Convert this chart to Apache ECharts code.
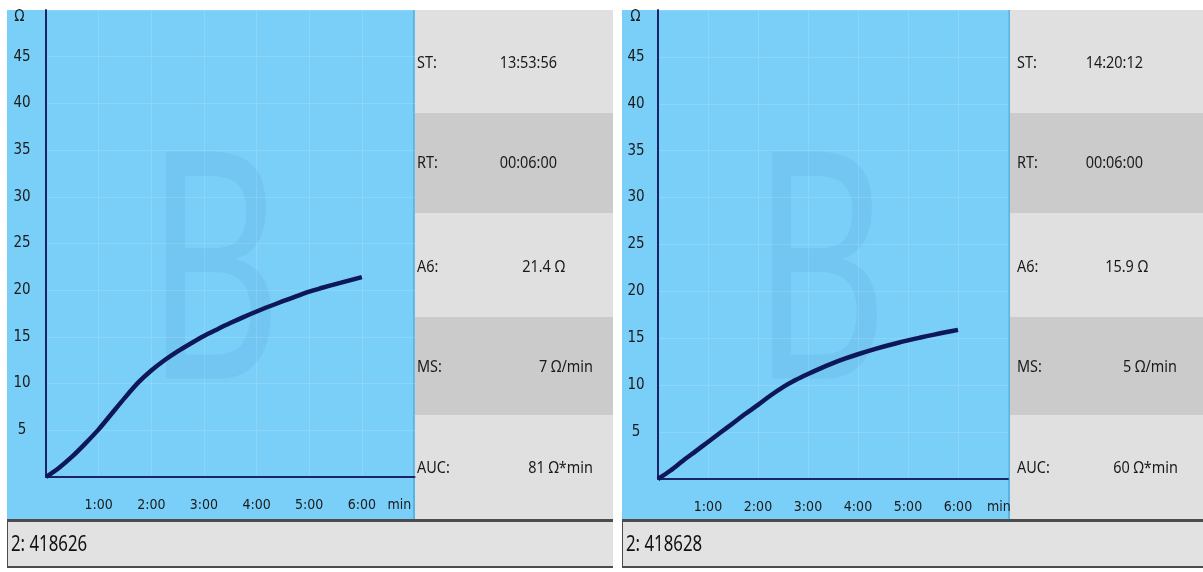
<!DOCTYPE html>
<html>
<head>
<meta charset="utf-8">
<script src="https://cdn.jsdelivr.net/npm/echarts@6/dist/echarts.min.js"></script>
<style>
  html, body { margin: 0; padding: 0; background: #ffffff; }
  #chart { width: 1203px; height: 572px; }
</style>
</head>
<body>
<div id="chart"></div>
<script>
// Elapsed time in minutes, one reading every 15 seconds
const times = [0, 0.25, 0.5, 0.75, 1, 1.25, 1.5, 1.75, 2, 2.25, 2.5, 2.75, 3,
               3.25, 3.5, 3.75, 4, 4.25, 4.5, 4.75, 5, 5.25, 5.5, 5.75, 6];

// Impedance (Ω) for the two runs
const runA = [0, 1.0, 2.2, 3.6, 5.1, 6.8, 8.5, 10.1, 11.4, 12.5, 13.45, 14.3, 15.1,
              15.8, 16.48, 17.12, 17.72, 18.28, 18.82, 19.34, 19.85, 20.26, 20.65, 21.03, 21.4];
const runB = [0, 0.9, 1.95, 2.95, 3.95, 4.95, 5.95, 6.95, 7.9, 8.9, 9.8, 10.55, 11.2,
              11.8, 12.35, 12.85, 13.3, 13.72, 14.1, 14.45, 14.78, 15.08, 15.37, 15.64, 15.9];

const xTickLabels = ['1:00', '2:00', '3:00', '4:00', '5:00', '6:00'];
const yTickLabels = ['5', '10', '15', '20', '25', '30', '35', '40', '45'];

const infoLabels = ['ST:', 'RT:', 'A6:', 'MS:', 'AUC:'];
const startTimes = ['13:53:56', '14:20:12'];
const runTimes = ['00:06:00', '00:06:00'];
const maxSlopes = [7, 5];
const areas = [81, 60];
const sampleIds = ['2: 418626', '2: 418628'];
const panelMark = 'B';

const runs = [runA, runB];

const chart = echarts.init(document.getElementById('chart'), null, { renderer: 'canvas' });

const NARROW = "'DejaVu Sans Condensed', 'Liberation Sans Narrow', 'Liberation Sans', sans-serif";
const UI = "'Noto Sans', 'DejaVu Sans', sans-serif";
const BLUE = '#7acff9';
const AXIS = '#1b2466';
const INK = '#1a1a1a';

// Screen geometry of the two instrument panels
const panels = [
  { frameL: 7,   frameR: 613,  plotL: 46,  plotR: 414.5, plotB: 477, infoL: 415,
    labelX: 417, valueR: [557, 557, 565, 593, 593], markX: 214 },
  { frameL: 622, frameR: 1203, plotL: 658, plotR: 1008,  plotB: 479, infoL: 1010,
    labelX: 1017, valueR: [1143, 1143, 1148, 1177, 1178], markX: 820 }
];
const TOP = 10, BAR_T = 520, BAR_B = 568;
const rowEdges = [10, 113, 213, 317, 415, 520];
const rowLabelY = [63, 163, 267, 367, 468];

function infoValues(i) {
  const run = runs[i];
  return [
    startTimes[i],
    runTimes[i],
    run[run.length - 1].toFixed(1) + ' Ω',
    maxSlopes[i] + ' Ω/min',
    areas[i] + ' Ω*min'
  ];
}

const graphics = [];
panels.forEach((p, i) => {
  // blue plotting field
  graphics.push({ type: 'rect', z: -100, shape: { x: p.frameL, y: TOP, width: p.infoL - p.frameL, height: BAR_T - TOP },
    style: { fill: BLUE } });
  // large faint panel letter
  graphics.push({ type: 'text', z: -90, x: p.markX, y: 288, scaleX: 0.66,
    style: { text: panelMark, font: '318px ' + UI, fill: 'rgba(20,80,140,0.065)', align: 'center', verticalAlign: 'middle' } });
  // divider between field and info column
  graphics.push({ type: 'rect', z: -80, shape: { x: p.infoL - 2, y: TOP, width: 2, height: BAR_T - TOP },
    style: { fill: '#58b4e4' } });
  // info rows
  const vals = infoValues(i);
  for (let r = 0; r < 5; r++) {
    graphics.push({ type: 'rect', z: -80, shape: { x: p.infoL, y: rowEdges[r], width: p.frameR - p.infoL, height: rowEdges[r + 1] - rowEdges[r] },
      style: { fill: r % 2 ? '#cbcbcb' : '#e0e0e0' } });
    graphics.push({ type: 'text', z: 10, x: p.labelX, y: rowLabelY[r], scaleX: 0.85,
      style: { text: infoLabels[r], font: '17px ' + UI, fill: INK, align: 'left', verticalAlign: 'middle' } });
    graphics.push({ type: 'text', z: 10, x: p.valueR[r], y: rowLabelY[r], scaleX: 0.85,
      style: { text: vals[r], font: '17px ' + UI, fill: INK, align: 'right', verticalAlign: 'middle' } });
  }
  // status bar with sample id
  graphics.push({ type: 'rect', z: -80, shape: { x: p.frameL, y: BAR_T - 1, width: p.frameR - p.frameL, height: BAR_B - BAR_T + 1 },
    style: { fill: '#4c4c4c' } });
  graphics.push({ type: 'rect', z: -79, shape: { x: p.frameL + 1, y: BAR_T + 2, width: p.frameR - p.frameL - 1, height: BAR_B - BAR_T - 4 },
    style: { fill: '#e2e2e2' } });
  graphics.push({ type: 'text', z: 10, x: p.frameL + 4, y: 545, scaleX: 0.8,
    style: { text: sampleIds[i], font: '21px ' + UI, fill: '#111111', align: 'left', verticalAlign: 'middle' } });
});

const grids = panels.map(p => ({
  left: p.plotL, top: TOP, width: p.plotR - p.plotL, height: p.plotB - TOP,
  containLabel: false, outerBoundsMode: 'none'
}));

const xAxes = panels.map((p, i) => ({
  type: 'value', gridIndex: i, min: 0, max: 7, interval: 1,
  axisLine: { show: true, onZero: false, lineStyle: { color: AXIS, width: 2 } },
  axisTick: { show: false },
  splitLine: { show: true, lineStyle: { color: 'rgba(255,255,255,0.13)', width: 1 } },
  axisLabel: {
    margin: 21, color: INK, fontSize: 14, fontFamily: NARROW,
    formatter: v => xTickLabels[v - 1] || ''
  },
  name: 'min', nameLocation: 'end', nameGap: i === 0 ? -27 : -21,
  nameTextStyle: { color: INK, fontSize: 14, fontFamily: NARROW, align: 'left', verticalAlign: 'top', padding: [21, 0, 0, 0] }
}));

const yAxes = panels.map((p, i) => ({
  type: 'value', gridIndex: i, min: 0, max: 50, interval: 5,
  axisLine: { show: true, onZero: false, lineStyle: { color: AXIS, width: 2 } },
  axisTick: { show: false },
  splitLine: { show: true, lineStyle: { color: 'rgba(255,255,255,0.13)', width: 1 } },
  axisLabel: {
    margin: i === 0 ? 24 : 22, align: 'center', color: INK, fontSize: 15, fontFamily: NARROW,
    formatter: v => yTickLabels[v / 5 - 1] || ''
  },
  name: 'Ω', nameLocation: 'end', nameGap: 0,
  nameTextStyle: { color: INK, fontSize: 15, fontFamily: NARROW, align: 'center', verticalAlign: 'top',
    padding: [0, i === 0 ? 53 : 45, 0, 0] }
}));

const series = runs.map((run, i) => ({
  type: 'line', xAxisIndex: i, yAxisIndex: i,
  data: times.map((t, k) => [t, run[k]]),
  showSymbol: false, smooth: 0.3, silent: true,
  lineStyle: { color: '#0e1757', width: 4.5 },
  z: 5
}));

chart.setOption({
  animation: false,
  backgroundColor: '#ffffff',
  grid: grids,
  xAxis: xAxes,
  yAxis: yAxes,
  series: series,
  graphic: { elements: graphics }
});
</script>
</body>
</html>
